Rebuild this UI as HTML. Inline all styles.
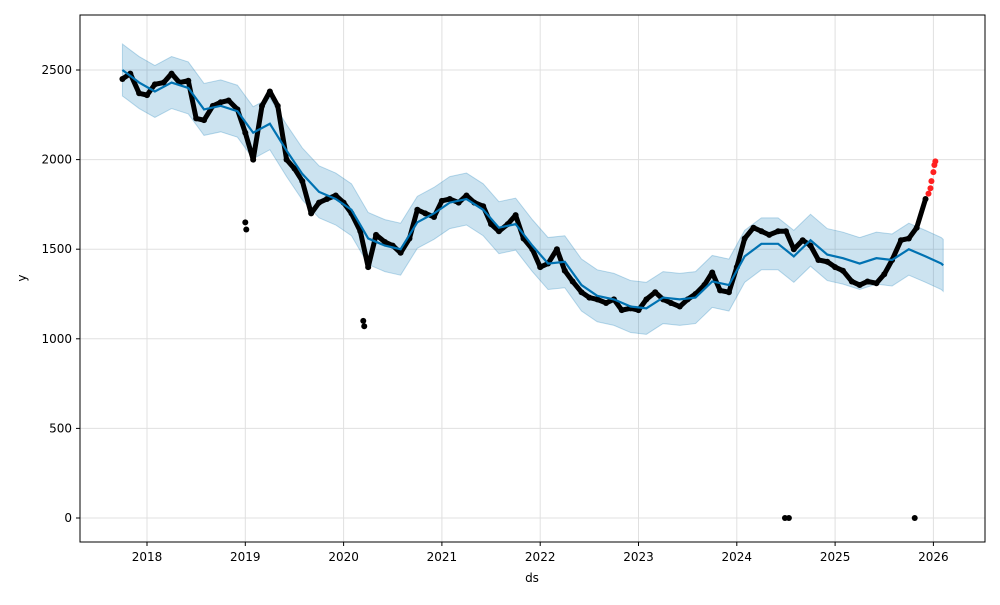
<!DOCTYPE html>
<html><head><meta charset="utf-8">
<style>
body{margin:0;background:#fff;font-family:"Liberation Sans","DejaVu Sans",sans-serif;}
svg text{font-family:"DejaVu Sans","Liberation Sans",sans-serif;font-size:12px;fill:#000;}
</style></head>
<body>
<svg id="chart" width="1000" height="600" viewBox="0 0 1000 600">
<rect width="1000" height="600" fill="#fff"/>
<g id="grid"></g>
<g id="band"></g>
<g id="obs"></g>
<g id="line"></g>
<g id="axes"></g>
<rect x="80" y="15" width="905" height="527" fill="none" stroke="#000" stroke-width="1"/>
<text x="532" y="582" text-anchor="middle">ds</text>
<text x="26" y="278" text-anchor="middle" transform="rotate(-90 26 278)">y</text>
</svg>
<script>
const xTicks=[2018,2019,2020,2021,2022,2023,2024,2025,2026];
const yTicks=[0,500,1000,1500,2000,2500];
const obsX=[2017.75,2017.83,2017.92,2018.0,2018.08,2018.17,2018.25,2018.33,2018.42,2018.5,2018.58,2018.67,2018.75,2018.83,2018.92,2019.0,2019.08,2019.17,2019.25,2019.33,2019.42,2019.5,2019.58,2019.67,2019.75,2019.83,2019.92,2020.0,2020.08,2020.17,2020.25,2020.33,2020.42,2020.5,2020.58,2020.67,2020.75,2020.83,2020.92,2021.0,2021.08,2021.17,2021.25,2021.33,2021.42,2021.5,2021.58,2021.67,2021.75,2021.83,2021.92,2022.0,2022.08,2022.17,2022.25,2022.33,2022.42,2022.5,2022.58,2022.67,2022.75,2022.83,2022.92,2023.0,2023.08,2023.17,2023.25,2023.33,2023.42,2023.5,2023.58,2023.67,2023.75,2023.83,2023.92,2024.0,2024.08,2024.17,2024.25,2024.33,2024.42,2024.5,2024.58,2024.67,2024.75,2024.83,2024.92,2025.0,2025.08,2025.17,2025.25,2025.33,2025.42,2025.5,2025.58,2025.67,2025.75,2025.83,2025.92];
const obsY=[2450,2480,2370,2360,2420,2430,2480,2430,2440,2230,2220,2300,2320,2330,2280,2150,2000,2300,2380,2300,2000,1950,1880,1700,1760,1780,1800,1760,1700,1600,1400,1580,1540,1520,1480,1560,1720,1700,1680,1770,1780,1760,1800,1760,1740,1640,1600,1640,1690,1560,1500,1400,1420,1500,1380,1320,1260,1230,1220,1200,1220,1160,1170,1160,1220,1260,1220,1200,1180,1220,1250,1300,1370,1270,1260,1400,1560,1620,1600,1580,1600,1600,1500,1550,1520,1440,1430,1400,1380,1320,1300,1320,1310,1360,1440,1550,1560,1620,1780];
const outX=[2019.0,2019.01,2020.2,2020.21,2024.49,2024.53,2025.81];
const outY=[1650,1610,1100,1070,0,0,0];
const redX=[2025.95,2025.97,2025.98,2026.0,2026.01,2026.02];
const redY=[1810,1840,1880,1930,1970,1990];
const fX=[2017.75,2017.92,2018.08,2018.25,2018.42,2018.58,2018.75,2018.92,2019.08,2019.25,2019.42,2019.58,2019.75,2019.92,2020.08,2020.25,2020.42,2020.58,2020.75,2020.92,2021.08,2021.25,2021.42,2021.58,2021.75,2021.92,2022.08,2022.25,2022.42,2022.58,2022.75,2022.92,2023.08,2023.25,2023.42,2023.58,2023.75,2023.92,2024.08,2024.25,2024.42,2024.58,2024.75,2024.92,2025.08,2025.25,2025.42,2025.58,2025.75,2025.92,2026.08,2026.1];
const fY=[2500,2430,2380,2430,2400,2280,2300,2270,2150,2200,2050,1920,1820,1780,1720,1560,1520,1500,1650,1700,1760,1780,1720,1620,1640,1520,1420,1430,1300,1240,1220,1180,1170,1230,1220,1230,1320,1300,1460,1530,1530,1460,1550,1470,1450,1420,1450,1440,1500,1460,1420,1410];
const bandW=145;
const NS="http://www.w3.org/2000/svg";
const X=y=>147+(y-2018)*98.3;
const Y=v=>518-v*0.1792;
function mk(t,a,p){const e=document.createElementNS(NS,t);for(const k in a)e.setAttribute(k,a[k]);p.appendChild(e);return e;}
const grid=document.getElementById('grid'),axes=document.getElementById('axes');
xTicks.forEach(t=>{
 const l=mk('line',{x1:X(t),x2:X(t),y1:15,y2:542,stroke:'#e0e0e0','stroke-width':1},grid);
 
 
 mk('line',{x1:X(t),x2:X(t),y1:542,y2:546,stroke:'#000'},axes);
 const tx=mk('text',{x:X(t),y:561,'text-anchor':'middle'},axes);tx.textContent=t;
 
 
});
yTicks.forEach(t=>{
 const l=mk('line',{x1:80,x2:985,y1:Y(t),y2:Y(t),stroke:'#e0e0e0','stroke-width':1},grid);
 
 
 mk('line',{x1:76,x2:80,y1:Y(t),y2:Y(t),stroke:'#000'},axes);
 const tx=mk('text',{x:72,y:Y(t)+4,'text-anchor':'end'},axes);tx.textContent=t;
 
 
});
let up=fX.map((x,i)=>X(x)+','+Y(fY[i]+bandW)).join(' ');
let dn=fX.map((x,i)=>X(x)+','+Y(fY[i]-bandW)).reverse().join(' ');
const bp=mk('polygon',{points:up+' '+dn,fill:'#0072B2','fill-opacity':0.2,stroke:'#0072B2','stroke-opacity':0.25},document.getElementById('band'));


const obs=document.getElementById('obs');
const ol=mk('polyline',{points:obsX.map((x,i)=>X(x)+','+Y(obsY[i])).join(' '),fill:'none',stroke:'#000','stroke-width':5,'stroke-linejoin':'round'},obs);


obsX.forEach((x,i)=>{const c=mk('circle',{cx:X(x),cy:Y(obsY[i]),r:3,fill:'#000'},obs);
 
 });
outX.forEach((x,i)=>{const c=mk('circle',{cx:X(x),cy:Y(outY[i]),r:3,fill:'#000'},obs);
 
 });
redX.forEach((x,i)=>{const c=mk('circle',{cx:X(x),cy:Y(redY[i]),r:3,fill:'#ff2020'},obs);
 
 });
const fl=mk('polyline',{points:fX.map((x,i)=>X(x)+','+Y(fY[i])).join(' '),fill:'none',stroke:'#0072B2','stroke-width':2.2},document.getElementById('line'));


</script>
</body></html>
